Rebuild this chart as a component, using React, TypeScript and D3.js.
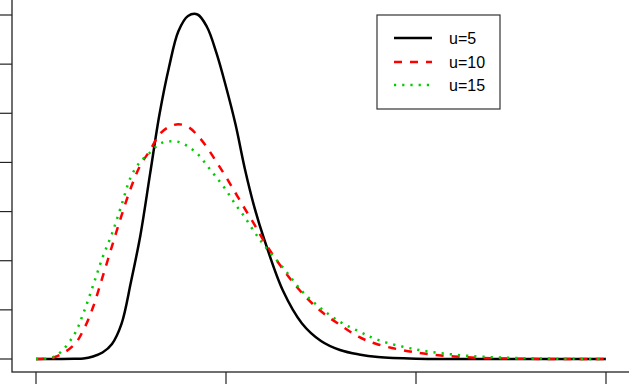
import React from "react";
import * as d3 from "d3";

const xs = [0, 0.5, 1, 1.25, 1.5, 1.75, 2, 2.25, 2.5, 2.75, 3, 3.25, 3.5, 3.75, 4, 4.25, 4.5, 4.75, 5, 5.25, 5.5, 5.75, 6, 6.5, 7, 7.5, 8, 8.5, 9, 10, 11, 12, 13, 14, 15];
const u5 = [0, 0, 0.0002, 0.0005, 0.0026, 0.0066, 0.0153, 0.0357, 0.0786, 0.1265, 0.1878, 0.249, 0.2969, 0.3337, 0.349, 0.3505, 0.3378, 0.3112, 0.277, 0.2388, 0.1929, 0.1541, 0.1225, 0.0694, 0.0362, 0.0184, 0.0092, 0.0046, 0.002, 0.0003, 0, 0, 0, 0, 0];
const u10 = [0, 0.002, 0.0143, 0.0296, 0.0526, 0.0832, 0.1148, 0.1459, 0.1745, 0.1974, 0.2122, 0.2286, 0.2362, 0.2388, 0.2362, 0.2276, 0.2153, 0.2005, 0.1852, 0.1689, 0.1526, 0.1367, 0.1199, 0.0913, 0.0673, 0.0485, 0.0347, 0.0224, 0.0148, 0.0066, 0.0026, 0.0008, 0.0002, 0, 0];
const u15 = [0, 0.0026, 0.0245, 0.0469, 0.0745, 0.1031, 0.1276, 0.1566, 0.1857, 0.201, 0.2099, 0.2189, 0.2214, 0.2209, 0.2163, 0.2087, 0.1969, 0.1847, 0.1719, 0.1571, 0.1439, 0.1291, 0.1158, 0.093, 0.0689, 0.0515, 0.0378, 0.0281, 0.0194, 0.0097, 0.0045, 0.0018, 0.0007, 0.0002, 0];

const seriesNames = ["u=5", "u=10", "u=15"];
const seriesColors = ["#000000", "#FF0000", "#00CD00"];
const seriesDash = ["none", "8 8", "2.2 6"];
const xTicks = [0, 5, 10, 15];
const yTicks = [0, 0.05, 0.1, 0.15, 0.2, 0.25, 0.3, 0.35];

export default function App() {
  const W = 629;
  const H = 384;
  const x = d3.scaleLinear().domain([0, 15]).range([36, 606]);
  const y = d3.scaleLinear().domain([0, 0.35]).range([359, 15]);
  const line = d3
    .line<number>()
    .x((_, i) => x(xs[i]))
    .y((d) => y(d))
    .curve(d3.curveCatmullRom.alpha(0.5));
  const all = [u5, u10, u15];
  const legX = 377;
  const legY = 15;
  const rowYs = [38, 62, 85];

  return (
    <svg
      width={W}
      height={H}
      style={{ position: "fixed", left: 0, top: 0, background: "#fff" }}
      fontFamily="'Liberation Sans', Arial, sans-serif"
    >
      <rect x={0} y={0} width={W} height={H} fill="#fff" />
      {/* plot box */}
      <rect x={12} y={-20} width={720} height={392} fill="none" stroke="#222" strokeWidth={1.3} />
      {/* y ticks */}
      {yTicks.map((t) => (
        <line key={"y" + t} x1={0} x2={12} y1={y(t)} y2={y(t)} stroke="#222" strokeWidth={1.2} />
      ))}
      {/* x ticks */}
      {xTicks.map((t) => (
        <line key={"x" + t} x1={x(t)} x2={x(t)} y1={372} y2={384} stroke="#222" strokeWidth={1.2} />
      ))}
      {/* curves */}
      {all.map((s, i) => (
        <path
          key={seriesNames[i]}
          d={line(s) || ""}
          fill="none"
          stroke={seriesColors[i]}
          strokeWidth={2.5}
          strokeDasharray={seriesDash[i]}
          strokeLinejoin="round"
        />
      ))}
      {/* legend */}
      <rect x={legX} y={legY} width={123} height={94} fill="#fff" stroke="#333" strokeWidth={1.2} />
      {seriesNames.map((n, i) => (
        <g key={n}>
          <line
            x1={394}
            x2={432}
            y1={rowYs[i]}
            y2={rowYs[i]}
            stroke={seriesColors[i]}
            strokeWidth={2.5}
            strokeDasharray={seriesDash[i]}
          />
          <text x={449} y={rowYs[i] + 5.6} fontSize={16} fill="#000">
            {n}
          </text>
        </g>
      ))}
    </svg>
  );
}
